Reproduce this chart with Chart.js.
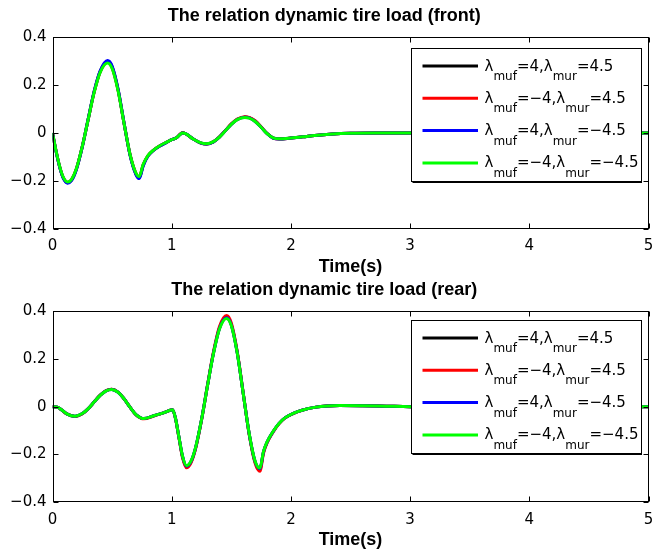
<!DOCTYPE html>
<html><head><meta charset="utf-8">
<script src="https://cdn.jsdelivr.net/npm/chart.js@4.4.0/dist/chart.umd.min.js"></script>
<style>
html,body{margin:0;padding:0;background:#fff;width:654px;height:553px;overflow:hidden}
canvas{position:absolute;left:0}
#c1{top:0}#c2{top:276px}
</style></head>
<body>
<canvas id="c1" width="654" height="276"></canvas>
<canvas id="c2" width="654" height="277"></canvas>
<script>
// ---------- data ----------
const xTicks = [0, 1, 2, 3, 4, 5];
const yTicks = [-0.4, -0.2, 0, 0.2, 0.4];
const lambdaMuf = ['4', '−4', '4', '−4'];
const lambdaMur = ['4.5', '4.5', '−4.5', '−4.5'];
const seriesColors = ['#000000', '#ff0000', '#0000ff', '#00ff00'];

const timeFront = [0, 0.03, 0.06, 0.09, 0.127, 0.16, 0.2, 0.25, 0.3, 0.35,
  0.4, 0.462, 0.5, 0.55, 0.6, 0.65, 0.7, 0.728, 0.76, 0.8,
  0.85, 0.9, 0.95, 1.0, 1.04, 1.07, 1.09, 1.12, 1.18, 1.24,
  1.292, 1.35, 1.4, 1.45, 1.5, 1.55, 1.614, 1.65, 1.7, 1.75,
  1.8, 1.85, 1.9, 2.0, 2.1, 2.2, 2.35, 2.5, 2.7, 3.0,
  3.5, 4.0, 4.5, 5.0];
const blackFront = [0, -0.076, -0.141, -0.187, -0.207, -0.196, -0.151, -0.057, 0.059, 0.173,
  0.257, 0.299, 0.276, 0.181, 0.042, -0.090, -0.171, -0.187, -0.136, -0.096,
  -0.071, -0.054, -0.041, -0.028, -0.020, -0.006, 0.001, -0.004, -0.025, -0.041,
  -0.046, -0.037, -0.017, 0.010, 0.037, 0.057, 0.067, 0.064, 0.050, 0.025,
  -0.002, -0.020, -0.024, -0.021, -0.016, -0.010, -0.004, -0.001, 0.000, 0.000,
  0.000, 0.000, 0.000, 0.000];
const redFront = [0, -0.075, -0.140, -0.185, -0.205, -0.194, -0.150, -0.056, 0.058, 0.171,
  0.255, 0.295, 0.272, 0.178, 0.041, -0.088, -0.168, -0.183, -0.133, -0.095,
  -0.070, -0.053, -0.040, -0.028, -0.020, -0.005, 0.001, -0.004, -0.025, -0.041,
  -0.046, -0.036, -0.016, 0.010, 0.038, 0.058, 0.068, 0.065, 0.051, 0.026,
  -0.002, -0.021, -0.025, -0.021, -0.016, -0.010, -0.004, -0.001, 0.000, 0.000,
  0.000, 0.000, 0.000, 0.000];
const blueFront = [0, -0.077, -0.142, -0.188, -0.209, -0.198, -0.153, -0.058, 0.060, 0.175,
  0.259, 0.302, 0.279, 0.183, 0.043, -0.091, -0.173, -0.190, -0.138, -0.097,
  -0.071, -0.054, -0.041, -0.028, -0.020, -0.006, 0.000, -0.004, -0.025, -0.041,
  -0.046, -0.037, -0.017, 0.009, 0.036, 0.056, 0.066, 0.063, 0.048, 0.024,
  -0.003, -0.021, -0.025, -0.021, -0.016, -0.010, -0.004, -0.001, 0.000, 0.000,
  0.000, 0.000, 0.000, 0.000];
const greenFront = [0, -0.075, -0.139, -0.184, -0.204, -0.193, -0.149, -0.056, 0.058, 0.170,
  0.253, 0.292, 0.269, 0.176, 0.041, -0.088, -0.167, -0.181, -0.132, -0.094,
  -0.070, -0.053, -0.040, -0.028, -0.020, -0.006, 0.000, -0.004, -0.025, -0.040,
  -0.045, -0.036, -0.017, 0.009, 0.036, 0.056, 0.065, 0.062, 0.048, 0.024,
  -0.003, -0.020, -0.024, -0.021, -0.016, -0.010, -0.004, -0.001, 0.000, 0.000,
  0.000, 0.000, 0.000, 0.000];

const timeRear = [0, 0.04, 0.08, 0.12, 0.189, 0.25, 0.3, 0.35, 0.4, 0.45,
  0.496, 0.55, 0.6, 0.65, 0.7, 0.767, 0.85, 0.93, 1.007, 1.03,
  1.06, 1.09, 1.124, 1.16, 1.2, 1.25, 1.3, 1.35, 1.4, 1.46,
  1.5, 1.55, 1.6, 1.65, 1.7, 1.74, 1.77, 1.8, 1.85, 1.9,
  1.95, 2.02, 2.1, 2.21, 2.3, 2.41, 2.6, 2.8, 3.0, 3.5,
  4.0, 4.5, 5.0];
const blackRear = [0, -0.002, -0.015, -0.030, -0.041, -0.030, -0.008, 0.020, 0.048, 0.067,
  0.073, 0.061, 0.033, -0.002, -0.033, -0.050, -0.038, -0.026, -0.013, -0.045,
  -0.126, -0.208, -0.251, -0.233, -0.174, -0.056, 0.087, 0.224, 0.328, 0.374,
  0.344, 0.226, 0.056, -0.114, -0.232, -0.262, -0.190, -0.149, -0.105, -0.071,
  -0.047, -0.028, -0.014, -0.002, 0.003, 0.005, 0.004, 0.002, 0.000, 0.000,
  0.000, 0.000, 0.000];
const redRear = [0, -0.002, -0.015, -0.030, -0.041, -0.030, -0.008, 0.020, 0.048, 0.067,
  0.073, 0.061, 0.033, -0.002, -0.034, -0.051, -0.039, -0.026, -0.013, -0.046,
  -0.128, -0.212, -0.256, -0.237, -0.177, -0.057, 0.089, 0.228, 0.334, 0.381,
  0.350, 0.230, 0.057, -0.116, -0.237, -0.270, -0.195, -0.152, -0.107, -0.072,
  -0.048, -0.029, -0.014, -0.002, 0.003, 0.005, 0.004, 0.002, 0.000, 0.000,
  0.000, 0.000, 0.000];
const blueRear = [0, -0.002, -0.015, -0.030, -0.040, -0.029, -0.008, 0.020, 0.047, 0.066,
  0.072, 0.060, 0.033, -0.002, -0.033, -0.050, -0.038, -0.026, -0.013, -0.045,
  -0.125, -0.206, -0.249, -0.231, -0.172, -0.055, 0.087, 0.222, 0.326, 0.372,
  0.341, 0.224, 0.055, -0.113, -0.230, -0.260, -0.189, -0.148, -0.105, -0.070,
  -0.047, -0.028, -0.014, -0.002, 0.003, 0.005, 0.004, 0.002, 0.000, 0.000,
  0.000, 0.000, 0.000];
const greenRear = [0, -0.002, -0.015, -0.030, -0.040, -0.029, -0.008, 0.020, 0.047, 0.066,
  0.072, 0.060, 0.033, -0.002, -0.033, -0.050, -0.038, -0.026, -0.013, -0.045,
  -0.125, -0.205, -0.247, -0.229, -0.171, -0.055, 0.086, 0.221, 0.324, 0.369,
  0.339, 0.223, 0.055, -0.112, -0.228, -0.257, -0.187, -0.147, -0.104, -0.070,
  -0.047, -0.028, -0.014, -0.002, 0.003, 0.005, 0.004, 0.002, 0.000, 0.000,
  0.000, 0.000, 0.000];

// ---------- helpers ----------
const MAIN_FONT = '15px "DejaVu Sans"';
const SUB_FONT = '12px "DejaVu Sans"';

function makeDatasets(times, seriesList) {
  return seriesList.map((vals, i) => ({
    label: 'λmuf=' + lambdaMuf[i] + ',λmur=' + lambdaMur[i],
    data: times.map((t, k) => ({ x: t, y: vals[k] })),
    borderColor: seriesColors[i],
    backgroundColor: seriesColors[i],
    borderWidth: 3,
    pointRadius: 0,
    fill: false,
    cubicInterpolationMode: 'monotone',
    order: 4 - i
  }));
}

function fmtY(v) {
  const r = Math.round(v * 10) / 10;
  return r === 0 ? '0' : String(r).replace('-', '−');
}

const framePlugin = {
  id: 'matlabFrame',
  afterDatasetsDraw(chart, args, opts) {
    const { ctx, chartArea: a, scales: { x, y } } = chart;
    ctx.save();
    ctx.strokeStyle = '#000';
    ctx.lineWidth = 1;
    const L = Math.round(a.left) + 0.5, R = Math.round(a.right) - 0.5;
    const T = Math.round(a.top) + 0.5, B = Math.round(a.bottom) - 0.5;
    ctx.strokeRect(L, T, R - L, B - T);
    ctx.beginPath();
    xTicks.forEach(v => {
      const px = Math.round(x.getPixelForValue(v)) + 0.5;
      ctx.moveTo(px, B); ctx.lineTo(px, B - 5);
      ctx.moveTo(px, T); ctx.lineTo(px, T + 5);
    });
    yTicks.forEach(v => {
      const py = Math.round(y.getPixelForValue(v)) + 0.5;
      ctx.moveTo(L, py); ctx.lineTo(L + 5, py);
      ctx.moveTo(R, py); ctx.lineTo(R - 5, py);
    });
    ctx.stroke();

    // legend box
    const bw = 230, bh = 133;
    const bR = Math.round(a.right - 7.5) + 0.5;
    const bL = bR - bw;
    const bT = Math.round(a.top + opts.legendTop) + 0.5;
    ctx.fillStyle = '#fff';
    ctx.fillRect(bL, bT, bw, bh);
    ctx.strokeRect(bL, bT, bw, bh);
    ctx.beginPath();
    ctx.lineWidth = 2;
    ctx.moveTo(bL + 1, bT + bh + 0.5); ctx.lineTo(bR + 0.5, bT + bh + 0.5);
    ctx.stroke();
    chart.data.datasets.forEach((ds, i) => {
      const ry = bT + 17.5 + i * 32.3;
      ctx.strokeStyle = ds.borderColor;
      ctx.lineWidth = 3;
      ctx.beginPath();
      ctx.moveTo(bL + 11, ry); ctx.lineTo(bL + 66.5, ry);
      ctx.stroke();
      ctx.fillStyle = '#000';
      ctx.textBaseline = 'alphabetic';
      ctx.textAlign = 'left';
      let tx = bL + 73;
      const parts = [['λ', 0], ['muf', 1], ['=' + lambdaMuf[i] + ',', 0], ['λ', 0], ['mur', 1], ['=' + lambdaMur[i], 0]];
      parts.forEach(([s, sub]) => {
        ctx.font = sub ? SUB_FONT : MAIN_FONT;
        ctx.fillText(s, tx, ry + (sub ? 14 : 4.5));
        tx += ctx.measureText(s).width;
      });
    });
    ctx.restore();
  }
};

function makeChart(id, titleText, times, seriesList, cfg) {
  return new Chart(document.getElementById(id), {
    type: 'line',
    data: { datasets: makeDatasets(times, seriesList) },
    options: {
      responsive: false,
      animation: false,
      events: [],
      layout: { padding: { left: 0, right: 5.5, top: 0, bottom: 0 } },
      plugins: {
        legend: { display: false },
        tooltip: { enabled: false },
        title: {
          display: true,
          text: titleText,
          color: '#000',
          font: { family: '"Liberation Sans", Arial, sans-serif', size: 18, weight: 'bold', lineHeight: 1.2 },
          padding: { top: cfg.titleTop, bottom: cfg.titleBottom }
        },
        matlabFrame: { legendTop: cfg.legendTop }
      },
      scales: {
        x: {
          type: 'linear',
          min: 0, max: 5,
          afterBuildTicks: s => { s.ticks = xTicks.map(v => ({ value: v })); },
          afterFit: s => { s.height = cfg.xHeight; s.paddingLeft = 0; s.paddingRight = 0; },
          grid: { display: false, drawTicks: false },
          border: { display: false },
          ticks: { color: '#000', font: { family: '"DejaVu Sans"', size: 15 }, padding: 8.5, maxRotation: 0, callback: v => String(v) },
          title: {
            display: true, text: 'Time(s)', color: '#000',
            font: { family: '"Liberation Sans", Arial, sans-serif', size: 18, weight: 'bold', lineHeight: 1 },
            padding: { top: 0, bottom: cfg.xTitleBottom }
          }
        },
        y: {
          type: 'linear',
          min: -0.4, max: 0.4,
          afterBuildTicks: s => { s.ticks = yTicks.map(v => ({ value: v })); },
          afterFit: s => { s.width = 52.5; s.paddingTop = 0; s.paddingBottom = 0; },
          grid: { display: false, drawTicks: false },
          border: { display: false },
          ticks: { color: '#000', font: { family: '"DejaVu Sans"', size: 15 }, padding: 6, callback: fmtY }
        }
      }
    },
    plugins: [framePlugin]
  });
}

makeChart('c1', 'The relation dynamic tire load (front)', timeFront,
  [blackFront, redFront, blueFront, greenFront],
  { titleTop: 5.2, titleBottom: 10.2, xHeight: 47, xTitleBottom: 0, legendTop: 11 });
makeChart('c2', 'The relation dynamic tire load (rear)', timeRear,
  [blackRear, redRear, blueRear, greenRear],
  { titleTop: 3.2, titleBottom: 10.2, xHeight: 50.7, xTitleBottom: 4, legendTop: 8.5 });
</script>
</body></html>
